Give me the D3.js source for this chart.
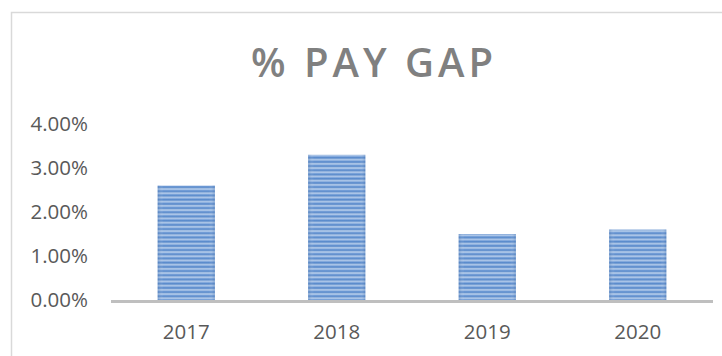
<!DOCTYPE html>
<html>
<head>
<meta charset="utf-8">
<script src="https://cdn.jsdelivr.net/npm/d3@7"></script>
<style>
  html, body { margin: 0; padding: 0; background: #fff; }
  svg { display: block; }
  text { font-family: "Open Sans", "Segoe UI", sans-serif; }
</style>
</head>
<body>
<svg id="chart" width="722" height="356"></svg>
<script>
// Pay gap by year
const years = ["2017", "2018", "2019", "2020"];
const payGap = [0.026, 0.033, 0.015, 0.016];
const yTicks = [0, 0.01, 0.02, 0.03, 0.04];
const chartTitle = "% PAY GAP";

const svg = d3.select("#chart");
const plot = { left: 111, right: 713, top: 124, bottom: 300 };

// outer chart frame
svg.append("rect")
  .attr("x", 11.5).attr("y", 12.5)
  .attr("width", 800).attr("height", 400)
  .attr("fill", "none")
  .attr("stroke", "#d9d9d9")
  .attr("stroke-width", 1.5);

// striped fill for bars: soft blue bands
const defs = svg.append("defs");
const band = defs.append("linearGradient")
  .attr("id", "band").attr("x1", 0).attr("x2", 0).attr("y1", 0).attr("y2", 1);
band.append("stop").attr("offset", 0).attr("stop-color", "#c3d6ef");
band.append("stop").attr("offset", 0.35).attr("stop-color", "#6f9bd6");
band.append("stop").attr("offset", 0.6).attr("stop-color", "#4f82c6");
band.append("stop").attr("offset", 1).attr("stop-color", "#c3d6ef");

const pat = defs.append("pattern")
  .attr("id", "stripes")
  .attr("patternUnits", "userSpaceOnUse")
  .attr("width", 8).attr("height", 4.2);
pat.append("rect").attr("width", 8).attr("height", 4.2).attr("fill", "url(#band)");

const shade = defs.append("linearGradient")
  .attr("id", "shade").attr("x1", 0).attr("x2", 1).attr("y1", 0).attr("y2", 0);
shade.append("stop").attr("offset", 0).attr("stop-color", "#2f5f9f").attr("stop-opacity", 0.3);
shade.append("stop").attr("offset", 0.1).attr("stop-color", "#ffffff").attr("stop-opacity", 0.0);
shade.append("stop").attr("offset", 0.9).attr("stop-color", "#ffffff").attr("stop-opacity", 0.0);
shade.append("stop").attr("offset", 1).attr("stop-color", "#2f5f9f").attr("stop-opacity", 0.3);

const x = d3.scaleBand()
  .domain(years)
  .range([plot.left, plot.right])
  .paddingInner(0.62)
  .paddingOuter(0.31);

const y = d3.scaleLinear()
  .domain([0, 0.04])
  .range([plot.bottom, plot.top]);

// title
svg.append("text")
  .attr("x", 374).attr("y", 77)
  .attr("text-anchor", "middle")
  .attr("font-size", 40)
  .attr("font-weight", 600)
  .attr("letter-spacing", 4)
  .attr("fill", "#808080")
  .text(chartTitle);

// bars
const bars = svg.append("g");
years.forEach((yr, i) => {
  const bx = x(yr), bw = x.bandwidth();
  const by = y(payGap[i]), bh = y(0) - y(payGap[i]);
  bars.append("rect")
    .attr("x", bx).attr("y", by).attr("width", bw).attr("height", bh)
    .attr("fill", "url(#stripes)");
  bars.append("rect")
    .attr("x", bx).attr("y", by).attr("width", bw).attr("height", bh)
    .attr("fill", "url(#shade)");
});

// y axis labels
const yAxis = svg.append("g")
  .attr("transform", `translate(${plot.left - 23},0)`)
  .call(d3.axisLeft(y).tickValues(yTicks).tickSize(0).tickPadding(0)
    .tickFormat(d3.format(".2%")));
yAxis.select(".domain").remove();
yAxis.selectAll("text")
  .attr("font-family", "Open Sans")
  .attr("font-size", 20.5)
  .attr("fill", "#595959");

// x axis
const xAxis = svg.append("g")
  .attr("transform", `translate(0,${plot.bottom})`)
  .call(d3.axisBottom(x).tickSize(0).tickPadding(0));
xAxis.select(".domain").remove();
xAxis.selectAll("text")
  .attr("y", 39)
  .attr("dy", 0)
  .attr("font-family", "Open Sans")
  .attr("font-size", 20.5)
  .attr("fill", "#595959");

// baseline
svg.append("line")
  .attr("x1", plot.left).attr("x2", plot.right)
  .attr("y1", y(0) + 1.5).attr("y2", y(0) + 1.5)
  .attr("stroke", "#bfbfbf")
  .attr("stroke-width", 3);
</script>
</body>
</html>
